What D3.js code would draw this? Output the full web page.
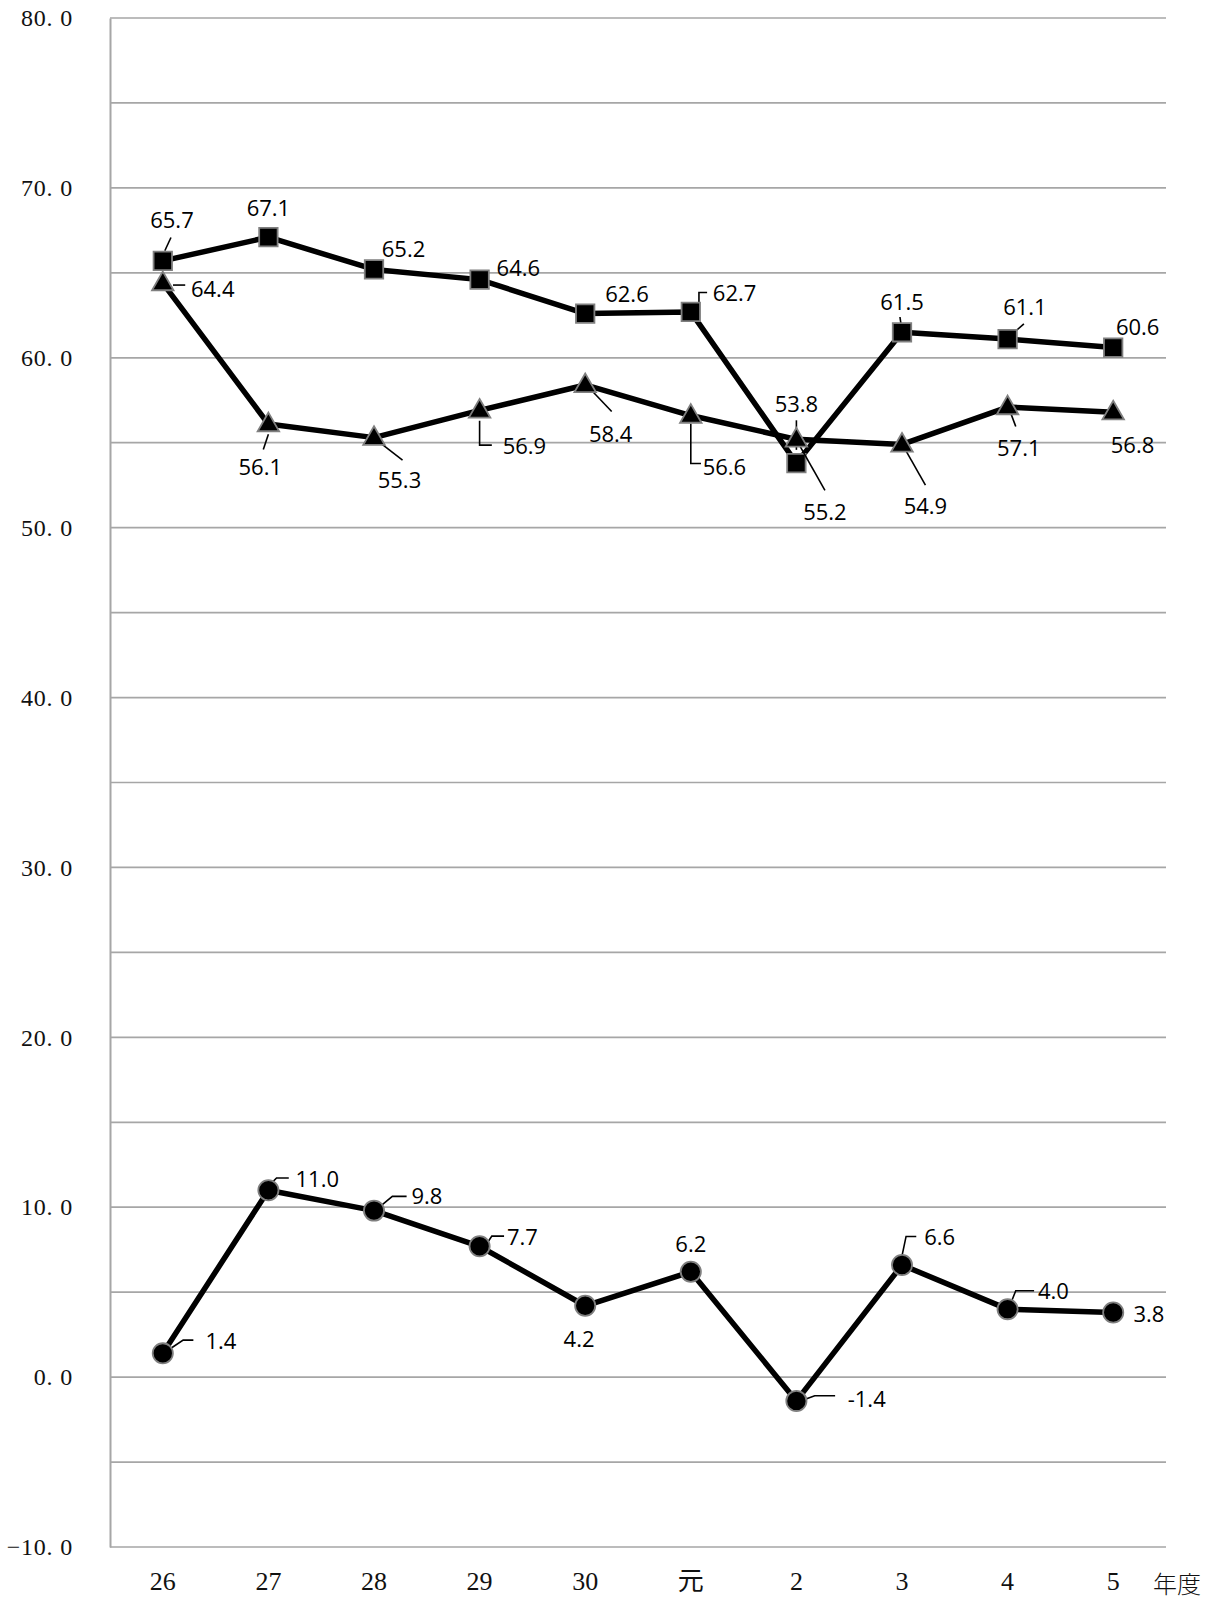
<!DOCTYPE html>
<html>
<head>
<meta charset="utf-8">
<script src="https://cdn.jsdelivr.net/npm/d3@7"></script>
<style>
  body { margin: 0; background: #fff; }
  .tick text { font-family: "Liberation Serif", "DejaVu Serif", serif; }
</style>
</head>
<body>
<svg id="chart" width="1212" height="1598"></svg>
<script>
// categories (年度) and series values
var years = ["26", "27", "28", "29", "30", "元", "2", "3", "4", "5"];
var squareVals   = [65.7, 67.1, 65.2, 64.6, 62.6, 62.7, 53.8, 61.5, 61.1, 60.6];
var triangleVals = [64.4, 56.1, 55.3, 56.9, 58.4, 56.6, 55.2, 54.9, 57.1, 56.8];
var circleVals   = [1.4, 11.0, 9.8, 7.7, 4.2, 6.2, -1.4, 6.6, 4.0, 3.8];
var yLabelTicks  = [-10, 0, 10, 20, 30, 40, 50, 60, 70, 80];
var yGridTicks   = d3.range(-10, 80.1, 5);

// label placement relative to each point (layout only)
var squareLabels = [
  {dx: 9, dy: -41, lead: [[2,-10],[8,-23]]},
  {dx: 0, dy: -30},
  {dx: 29, dy: -21},
  {dx: 38, dy: -12},
  {dx: 41, dy: -20},
  {dx: 43, dy: -20, lead: [[8,-8],[8,-19],[16,-19]]},
  {dx: 0, dy: -59, lead: [[0,-13],[0,-42]]},
  {dx: 0, dy: -31, lead: [[-1,-8],[-2,-15]]},
  {dx: 17, dy: -32, lead: [[8,-8],[16,-15]]},
  {dx: 24, dy: -21}
];
var triangleLabels = [
  {dx: 49, dy: 5, lead: [[10,2],[22,2]]},
  {dx: -8, dy: 41, lead: [[0,10],[-5,25]]},
  {dx: 25, dy: 41, lead: [[2,2],[28,22]]},
  {dx: 44, dy: 34, lead: [[0,10],[0,34],[12,34]]},
  {dx: 25, dy: 47, lead: [[4,3],[26,26]]},
  {dx: 33, dy: 50, lead: [[0,8],[0,47],[10,47]]},
  {dx: 28, dy: 70, lead: [[2,4],[28,50]]},
  {dx: 23, dy: 59, lead: [[2,3],[23,40]]},
  {dx: 11, dy: 39, lead: [[2,3],[8,19]]},
  {dx: 19, dy: 31}
];
var circleLabels = [
  {dx: 57, dy: -13, lead: [[8,-5],[20,-13],[30,-13]]},
  {dx: 48, dy: -12, lead: [[4,-8],[8,-12],[20,-12]]},
  {dx: 52, dy: -15, lead: [[7,-5],[18,-14],[32,-14]]},
  {dx: 42, dy: -10, lead: [[8,-4],[12,-10],[24,-10]]},
  {dx: -6, dy: 32},
  {dx: 0, dy: -28},
  {dx: 69, dy: -3, lead: [[10,-2],[18,-5],[38,-5]]},
  {dx: 37, dy: -28, lead: [[0,-9],[4,-28],[14,-28]]},
  {dx: 45, dy: -19, lead: [[4,-8],[8,-18],[26,-18]]},
  {dx: 35, dy: 0}
];
var k = 1.019; // offsets above were measured on a slightly reduced view

var plotLeft = 110, plotRight = 1166, plotTop = 18, plotBottom = 1547;
var svg = d3.select("#chart");

var x = d3.scalePoint().domain(years).range([plotLeft, plotRight]).padding(0.5);
var y = d3.scaleLinear().domain([-10, 80]).range([plotBottom, plotTop]);

// gridlines
svg.append("g").selectAll("line").data(yGridTicks).enter().append("line")
  .attr("x1", plotLeft).attr("x2", plotRight)
  .attr("y1", function(d){ return y(d); }).attr("y2", function(d){ return y(d); })
  .attr("stroke", "#a6a6a6").attr("stroke-width", 1.7);

// y axis
var yAxis = svg.append("g").attr("transform", "translate(" + plotLeft + ",0)")
  .call(d3.axisLeft(y).tickValues(yLabelTicks).tickSize(0).tickPadding(37)
    .tickFormat(function(d){ return d3.format(".1f")(d).replace(".", ". "); }));
yAxis.select(".domain").attr("stroke", "#a6a6a6").attr("stroke-width", 2);
yAxis.selectAll("text").attr("font-size", 24).attr("fill", "#111")
  .attr("letter-spacing", 0.8).style("white-space", "pre");

// x axis labels
svg.append("g").selectAll("text").data(years).enter().append("text")
  .attr("x", function(d){ return x(d); }).attr("y", plotBottom + 34)
  .attr("text-anchor", "middle").attr("dominant-baseline", "central")
  .attr("font-family", "'Liberation Serif', 'Noto Sans CJK JP', serif")
  .attr("font-size", 26).attr("fill", "#111")
  .text(function(d){ return d; });
svg.append("text").attr("x", 1177).attr("y", plotBottom + 35)
  .attr("text-anchor", "middle").attr("dominant-baseline", "central")
  .attr("font-family", "'Noto Sans CJK JP', sans-serif").attr("font-size", 24)
  .attr("font-weight", 300).attr("fill", "#111").text("年度");

var line = d3.line().x(function(d){ return x(d.year); }).y(function(d){ return y(d.v); });

function drawSeries(vals, labels, marker) {
  var pts = vals.map(function(v, i){ return {year: years[i], v: v, lab: labels[i]}; });
  var g = svg.append("g");
  g.append("path").datum(pts).attr("d", line)
    .attr("fill", "none").attr("stroke", "#000").attr("stroke-width", 5.5)
    .attr("stroke-linejoin", "round");

  // leader lines
  g.selectAll(".lead").data(pts.filter(function(d){ return d.lab.lead; })).enter()
    .append("polyline")
    .attr("points", function(d){
      var px = x(d.year), py = y(d.v);
      return d.lab.lead.map(function(p){ return (px + k * p[0]) + "," + (py + k * p[1]); }).join(" ");
    })
    .attr("fill", "none").attr("stroke", "#000").attr("stroke-width", 1.6);

  var sym = d3.symbol().type(marker.type).size(marker.size);
  g.selectAll(".mk").data(pts).enter().append("path")
    .attr("d", sym)
    .attr("transform", function(d){ return "translate(" + x(d.year) + "," + (y(d.v) + (marker.shift || 0)) + ")"; })
    .attr("fill", "#000").attr("stroke", "#7f7f7f").attr("stroke-width", 1.8);

  g.selectAll(".lbl").data(pts).enter().append("text")
    .attr("x", function(d){ return x(d.year) + k * d.lab.dx; })
    .attr("y", function(d){ return y(d.v) + k * d.lab.dy; })
    .attr("text-anchor", "middle").attr("dominant-baseline", "central")
    .attr("font-family", "'Open Sans', 'Noto Sans', sans-serif").attr("font-size", 22)
    .attr("fill", "#000")
    .text(function(d){ return d3.format(".1f")(d.v).replace("−", "-"); });
}

drawSeries(squareVals, squareLabels, {type: d3.symbolSquare, size: 340});
drawSeries(triangleVals, triangleLabels, {type: d3.symbolTriangle, size: 200, shift: 1});
drawSeries(circleVals, circleLabels, {type: d3.symbolCircle, size: 320});
</script>
</body>
</html>
